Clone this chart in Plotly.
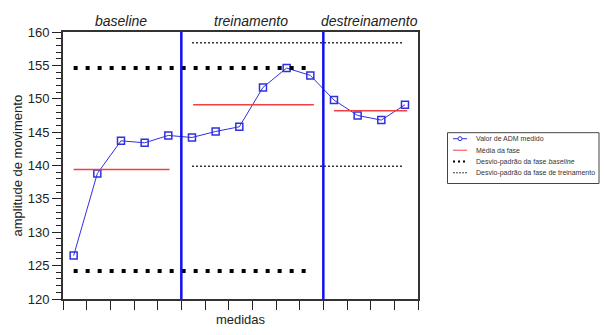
import plotly.graph_objects as go

# ---- data ----
phases = ["baseline", "treinamento", "destreinamento"]
x_baseline = [0.45, 1.45, 2.45, 3.45, 4.45]
y_baseline = [126.5, 138.8, 143.7, 143.4, 144.5]
x_trein = [5.45, 6.45, 7.45, 8.45, 9.45, 10.45]
y_trein = [144.2, 145.1, 145.8, 151.7, 154.6, 153.5]
x_destr = [11.45, 12.45, 13.45, 14.45]
y_destr = [149.8, 147.5, 146.8, 149.1]
phase_boundaries = [5, 11]

mean_baseline = 139.4
mean_trein = 149.1
mean_destr = 148.2
mean_x_baseline = [0.45, 4.5]
mean_x_trein = [5.5, 10.6]
mean_x_destr = [11.45, 14.55]

sd_baseline = [154.6, 124.2]
sd_baseline_x = [0.45, 10.45]
sd_trein = [158.4, 139.9]
sd_trein_x = [5.45, 14.35]

y_ticks = [120, 125, 130, 135, 140, 145, 150, 155, 160]

legend_labels = ["Valor de ADM medido", "Média da fase",
                 "Desvio-padrão da fase <i>baseline</i>",
                 "Desvio-padrão da fase de treinamento"]

BLUE = "#3030e0"
RED = "#f04040"
FONT = "Liberation Sans, Arial, sans-serif"

W, H = 604, 335
L, R, T, B = 63, 186, 32, 36
PW, PH = W - L - R, H - T - B


def px(xp):
    return (xp - L) / PW


def py(yp):
    return (H - B - yp) / PH


fig = go.Figure()

x_all = x_baseline + x_trein + x_destr
y_all = y_baseline + y_trein + y_destr
fig.add_trace(go.Scatter(
    x=x_all, y=y_all, mode="lines+markers",
    line=dict(color=BLUE, width=1),
    marker=dict(symbol="square-open", size=7, color=BLUE, line=dict(width=1.5, color=BLUE)),
))

for xs, m in [(mean_x_baseline, mean_baseline), (mean_x_trein, mean_trein), (mean_x_destr, mean_destr)]:
    fig.add_trace(go.Scatter(x=xs, y=[m, m], mode="lines", line=dict(color=RED, width=1.5)))

for v in sd_baseline:
    fig.add_trace(go.Scatter(x=sd_baseline_x, y=[v, v], mode="lines",
                             line=dict(color="black", width=4, dash="4px,8px")))

for v in sd_trein:
    fig.add_trace(go.Scatter(x=sd_trein_x, y=[v, v], mode="lines",
                             line=dict(color="#333333", width=1.5, dash="2px,2px")))

for b in phase_boundaries:
    fig.add_shape(type="line", xref="x", yref="paper", x0=b, x1=b, y0=0, y1=1,
                  line=dict(color="#1010f0", width=2.5))

for name, xs in zip(phases, [x_baseline, x_trein, x_destr]):
    fig.add_annotation(x=sum(xs) / len(xs), y=py(20.5), xref="x", yref="paper",
                       text=f"<i>{name}</i>", showarrow=False, yanchor="middle",
                       font=dict(family=FONT, size=14, color="#222"))

# y-axis title
fig.add_annotation(x=px(17), y=0.5, xref="paper", yref="paper",
                   text="amplitude de movimento", textangle=-90, showarrow=False,
                   xanchor="center", yanchor="middle",
                   font=dict(family=FONT, size=13, color="#222"))

# ---- manual legend ----
box_x0, box_x1, box_y0, box_y1 = 447.5, 599, 132.7, 183.5
fig.add_shape(type="rect", xref="paper", yref="paper",
              x0=px(box_x0), x1=px(box_x1), y0=py(box_y1), y1=py(box_y0),
              line=dict(color="#444", width=1), fillcolor="white", layer="above")
row_y = [138.7, 150.2, 161.6, 172.8]
s0, s1 = 453, 467
sample_styles = [
    dict(color=BLUE, width=1),
    dict(color=RED, width=1),
    dict(color="black", width=2, dash="2px,3px"),
    dict(color="#444", width=1, dash="2px,1px"),
]
for yy, lab, st in zip(row_y, legend_labels, sample_styles):
    fig.add_shape(type="line", xref="paper", yref="paper",
                  x0=px(s0), x1=px(s1), y0=py(yy), y1=py(yy), line=st, layer="above")
    fig.add_annotation(x=px(474), y=py(yy), xref="paper", yref="paper", text=lab,
                       showarrow=False, xanchor="left", yanchor="middle",
                       font=dict(family=FONT, size=7, color="#333"))
fig.add_shape(type="circle", xref="paper", yref="paper",
              x0=px(458), x1=px(462), y0=py(row_y[0] + 2), y1=py(row_y[0] - 2),
              line=dict(color=BLUE, width=1), fillcolor="white", layer="above")

fig.update_layout(
    width=W, height=H,
    margin=dict(l=L, r=R, t=T, b=B, autoexpand=False),
    paper_bgcolor="white", plot_bgcolor="white",
    font=dict(family=FONT, color="#222"),
    showlegend=False,
)
fig.update_xaxes(range=[0, 15], dtick=1, tick0=0, showticklabels=False,
                 ticks="outside", ticklen=9, tickwidth=1.2, tickcolor="#222",
                 showline=True, linecolor="#333", linewidth=2, mirror=True,
                 showgrid=False, zeroline=False,
                 title=dict(text="medidas", font=dict(size=13, family=FONT), standoff=6))
fig.update_yaxes(range=[120, 160], tickvals=y_ticks,
                 ticks="outside", ticklen=9, tickwidth=1.2, tickcolor="#222",
                 minor=dict(dtick=1, ticks="outside", ticklen=5, tickcolor="#222", tickwidth=1),
                 showline=True, linecolor="#333", linewidth=2, mirror=True,
                 showgrid=False, zeroline=False,
                 tickfont=dict(size=13, family=FONT))

fig.write_html("out.html")
